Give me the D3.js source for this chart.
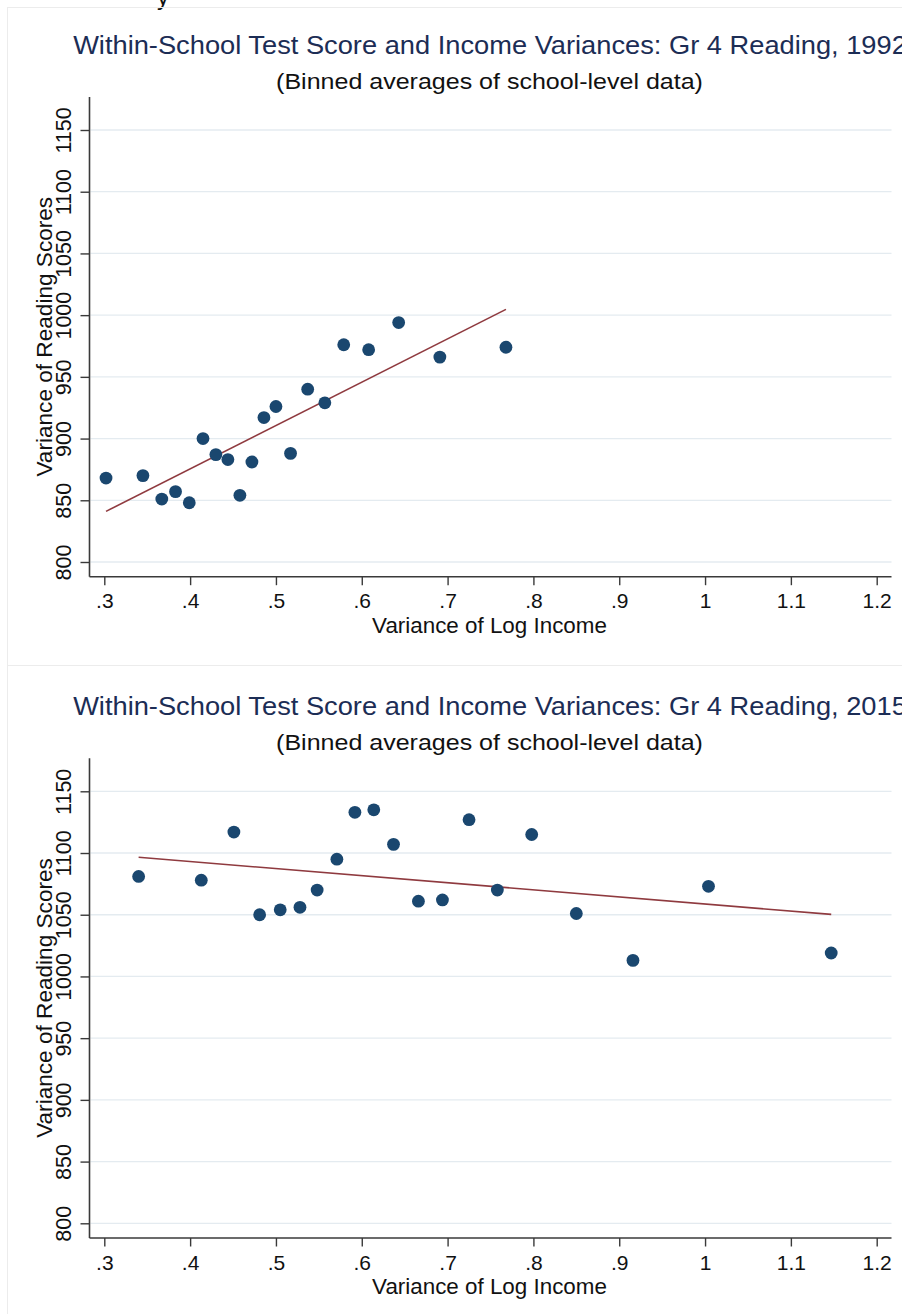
<!DOCTYPE html>
<html>
<head>
<meta charset="utf-8">
<script src="https://cdn.jsdelivr.net/npm/d3@7"></script>
<style>
  html, body { margin: 0; padding: 0; background: #ffffff; }
  svg { display: block; }
  text { font-family: "Liberation Sans", Arial, Helvetica, sans-serif; }
</style>
</head>
<body>
<svg id="chart" width="902" height="1314"></svg>
<script>
// Binned averages, 1992
const income1992 = [0.302, 0.345, 0.367, 0.383, 0.399, 0.415, 0.430, 0.444, 0.458, 0.472,
                    0.486, 0.500, 0.517, 0.537, 0.557, 0.579, 0.608, 0.643, 0.691, 0.768];
const reading1992 = [868, 870, 851, 857, 848, 900, 887, 883, 854, 881,
                     917, 926, 888, 940, 929, 976, 972, 994, 966, 974];
// Linear fit: [intercept, slope]
const fit1992 = [735.0, 351.1];

// Binned averages, 2015
const income2015 = [0.340, 0.413, 0.451, 0.481, 0.505, 0.528, 0.548, 0.571, 0.592, 0.614,
                    0.637, 0.666, 0.694, 0.725, 0.758, 0.798, 0.850, 0.916, 1.004, 1.147];
const reading2015 = [1081, 1078, 1117, 1050, 1054, 1056, 1070, 1095, 1133, 1135,
                     1107, 1061, 1062, 1127, 1070, 1115, 1051, 1013, 1073, 1019];
const fit2015 = [1116.0, -57.3];

const xTicks = [0.3, 0.4, 0.5, 0.6, 0.7, 0.8, 0.9, 1.0, 1.1, 1.2];
const xTickLabels = [".3", ".4", ".5", ".6", ".7", ".8", ".9", "1", "1.1", "1.2"];
const yTicks = [800, 850, 900, 950, 1000, 1050, 1100, 1150];

const titles = [
  "Within-School Test Score and Income Variances: Gr 4 Reading, 1992",
  "Within-School Test Score and Income Variances: Gr 4 Reading, 2015"
];
const subtitle = "(Binned averages of school-level data)";
const xTitle = "Variance of Log Income";
const yTitle = "Variance of Reading Scores";

const svg = d3.select("#chart");

// Layout of one graph panel (local coordinates)
const plot = { left: 89.5, right: 891.5, top: 97, bottom: 576.7 };
const x = d3.scaleLinear().domain([0.3, 1.2]).range([104.3, 876.7]);
const y = d3.scaleLinear().domain([800, 1150]).range([562, 130]);

const C = {
  title: "#1c2d55",
  text: "#111111",
  axis: "#3a3a3a",
  grid: "#e4ebf0",
  dot: "#1a476f",
  fit: "#8f3a3f",
  frame: "#ececec"
};

// Horizontal text at a given font size, squeezed sideways to a given width
function boxText(parent, str, cx, baseline, fontSize, width, color) {
  const t = parent.append("text")
    .attr("text-anchor", "middle")
    .attr("fill", color)
    .style("font-size", fontSize + "px")
    .text(str);
  const w = t.node().getComputedTextLength();
  t.attr("transform", `translate(${cx},${baseline}) scale(${width / w},1)`);
  return t;
}

// Cut-off line of text above the first graph
svg.append("text")
  .attr("x", 157).attr("y", 5)
  .attr("fill", C.text)
  .style("font-size", "24px")
  .text("y");

// Faint frame lines between screenshots
svg.append("line").attr("x1", 7).attr("x2", 902).attr("y1", 7.5).attr("y2", 7.5)
  .attr("stroke", C.frame).attr("stroke-width", 1);
svg.append("line").attr("x1", 7.5).attr("x2", 7.5).attr("y1", 7).attr("y2", 1314)
  .attr("stroke", C.frame).attr("stroke-width", 1);
svg.append("line").attr("x1", 7).attr("x2", 902).attr("y1", 665.5).attr("y2", 665.5)
  .attr("stroke", C.frame).attr("stroke-width", 1);

function drawPanel(offsetY, xs, ys, fit, title) {
  const g = svg.append("g").attr("transform", `translate(0,${offsetY})`);

  // Titles
  boxText(g, title, 490, 53.5, 26.5, 834, C.title);
  boxText(g, subtitle, 489.5, 89, 22, 427, C.text);

  // Gridlines
  g.append("g").selectAll("line")
    .data(yTicks)
    .join("line")
    .attr("x1", plot.left + 1).attr("x2", plot.right)
    .attr("y1", d => y(d)).attr("y2", d => y(d))
    .attr("stroke", C.grid).attr("stroke-width", 1.3);

  // Y axis
  const yAxis = g.append("g")
    .attr("transform", `translate(${plot.left},0)`)
    .call(d3.axisLeft(y).tickValues(yTicks).tickSize(9).tickSizeOuter(0).tickFormat(d3.format("d")));
  yAxis.select(".domain").remove();
  yAxis.selectAll(".tick line").attr("stroke", C.axis).attr("stroke-width", 1.4);
  yAxis.selectAll(".tick text")
    .attr("fill", C.text)
    .style("font-size", "21.5px")
    .attr("text-anchor", "middle")
    .attr("dy", null)
    .attr("x", null)
    .attr("transform", "translate(-19,0) rotate(-90)")
    .attr("y", 0);
  g.append("line")
    .attr("x1", plot.left).attr("x2", plot.left)
    .attr("y1", plot.top).attr("y2", plot.bottom)
    .attr("stroke", C.axis).attr("stroke-width", 1.6);

  // X axis
  const xAxis = g.append("g")
    .attr("transform", `translate(0,${plot.bottom})`)
    .call(d3.axisBottom(x).tickValues(xTicks).tickSize(8.5).tickSizeOuter(0)
      .tickFormat((d, i) => xTickLabels[i]));
  xAxis.select(".domain").remove();
  xAxis.selectAll(".tick line").attr("stroke", C.axis).attr("stroke-width", 1.4);
  xAxis.selectAll(".tick text")
    .attr("fill", C.text)
    .style("font-size", "21px")
    .attr("dy", null)
    .attr("y", 31.8);
  g.append("line")
    .attr("x1", plot.left).attr("x2", plot.right)
    .attr("y1", plot.bottom).attr("y2", plot.bottom)
    .attr("stroke", C.axis).attr("stroke-width", 1.6);

  // Axis titles
  boxText(g, xTitle, 489.5, 632.5, 21.5, 235, C.text);

  const yt = g.append("text")
    .attr("text-anchor", "middle")
    .attr("fill", C.text)
    .style("font-size", "21.5px")
    .text(yTitle);
  const yw = yt.node().getComputedTextLength();
  yt.attr("transform", `translate(52,336.7) rotate(-90) scale(${280 / yw},1)`);

  // Fitted line across the range of the data
  const [x0, x1] = d3.extent(xs);
  g.append("line")
    .attr("x1", x(x0)).attr("y1", y(fit[0] + fit[1] * x0))
    .attr("x2", x(x1)).attr("y2", y(fit[0] + fit[1] * x1))
    .attr("stroke", C.fit).attr("stroke-width", 1.6);

  // Binned points
  g.append("g").selectAll("circle")
    .data(xs.map((v, i) => [v, ys[i]]))
    .join("circle")
    .attr("cx", d => x(d[0]))
    .attr("cy", d => y(d[1]))
    .attr("r", 6.4)
    .attr("fill", C.dot);
}

drawPanel(0, income1992, reading1992, fit1992, titles[0]);
drawPanel(661.3, income2015, reading2015, fit2015, titles[1]);
</script>
</body>
</html>
